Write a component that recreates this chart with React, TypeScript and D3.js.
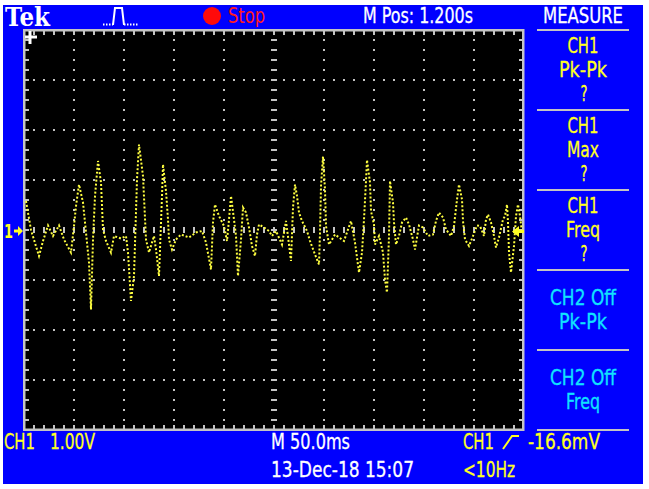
import React, { useEffect, useRef } from 'react';
import * as d3 from 'd3';

// CH1 trace: time from left edge of the graticule (ms) and level (V)
const sampleTimes = [
    2, 7, 15, 19, 24, 29, 35, 40, 47, 50, 52, 55, 59, 62, 65, 67, 69, 71, 74, 77,
    79, 82, 87, 90, 97, 102, 104, 107, 110, 113, 115, 119, 122, 125,
    130, 132, 135, 138, 139, 142, 144, 145, 148, 152, 157, 165, 172, 178, 182, 187,
    189, 191, 195, 200, 203, 205, 207, 210, 212, 214, 217, 219, 222, 225, 228, 231,
    233, 235, 240, 245, 248, 252,
    258, 262, 265, 267, 269, 271, 273, 275, 278, 283, 286, 291, 295, 296, 297, 299,
    301, 302, 305, 311, 320, 327, 331, 335, 338, 340, 342, 343, 346, 347, 350, 351,
    355, 359, 361, 363, 365, 366, 369, 370, 372, 375, 378, 382,
    385, 389, 391, 395, 399, 404, 409, 412, 415, 419, 422, 427, 430, 433, 435, 438,
    439, 441, 445, 449, 453, 456, 460, 462, 464, 467, 470, 472, 475, 479, 481, 483,
    484, 485, 487, 490, 492, 494, 496, 498, 499
];
const sampleVolts = [
    0.58, 0, -0.52, -0.22, 0.09, -0.12, 0.09, -0.19, -0.45, 0.08, 0.48, 0.91, 0.55, -0.05, -0.65, -1.59, -0.19, 0.68, 1.38, 0.95,
    0.01, -0.22, -0.45, -0.12, -0.17, -0.12, -0.45, -1.42, -0.92, 1.01, 1.71, 1.08, -0.19, -0.45,
    -0.12, -0.39, -0.92, 0.68, 1.31, 0.78, 0.21, -0.19, -0.39, -0.19, -0.09, -0.15, -0.05, -0.02, -0.25, -0.79,
    0.15, 0.51, 0.28, 0.08, -0.22, 0.21, 0.68, 0.21, -0.12, -0.92, -0.19, 0.45, 0.35, 0.05, -0.32, -0.52,
    -0.09, 0.11, 0.05, -0.02, -0.12, -0.02,
    -0.29, 0.18, -0.29, -0.62, 0.45, 0.91, 0.68, 0.35, 0.18, -0.02, -0.22, -0.49, -0.69, -0.05, 0.88, 1.47,
    0.81, 0.08, -0.29, -0.09, -0.22, 0.18, -0.25, -0.85, -0.45, 0.21, 0.98, 1.4, 0.95, 0.38, 0.11, -0.29,
    -0.12, -0.45, -0.99, -1.25, -0.12, 0.98, 0.55, 0.15, -0.29, -0.12, 0.15, 0.25,
    0.11, -0.19, -0.39, 0.09, 0.05, -0.12, -0.09, 0.18, 0.35, 0.25, 0.01, -0.12, 0.08, 0.61, 0.91, 0.61,
    0.18, -0.19, -0.32, -0.12, 0.09, 0.08, -0.12, 0.21, 0.31, 0.15, -0.12, -0.35, -0.15, 0.21, 0.28, 0.51,
    0.15, -0.45, -0.85, -0.32, 0.28, 0.51, 0.28, -0.05, 0.01
];

// MEASURE side menu
const measureSources = ['CH1', 'CH1', 'CH1', 'CH2 Off', 'CH2 Off'];
const measureTypes = ['Pk-Pk', 'Max', 'Freq', 'Pk-Pk', 'Freq'];
const measureValues = ['?', '?', '?', '', ''];

// status readouts
const headerTexts = ['M Pos: 1.200s', 'MEASURE'];
const footerTexts = ['CH1', '1.00V', 'M 50.0ms', '13-Dec-18 15:07', 'CH1', '-16.6mV', '<10Hz'];

const BLUE = '#0000fe';
const YELLOW = '#ffff22';
const CYAN = '#10e4ff';
const GREY = '#c4c4c4';
const FONT = "'DejaVu Sans', 'Liberation Sans', sans-serif";

// pixel widths of the scope's bitmap font, used as textLength
const textWidths: Record<string, number> = {
    'CH1': 31, 'Pk-Pk': 48, 'Max': 32, 'Freq': 34, '?': 7, 'CH2 Off': 66,
    'M Pos: 1.200s': 110, 'MEASURE': 80, '1.00V': 45, 'M 50.0ms': 79,
    '13-Dec-18 15:07': 143, '-16.6mV': 72, '<10Hz': 52
};

const ScopeScreen: React.FC = () => {
    const svgRef = useRef<SVGSVGElement>(null);

    useEffect(() => {
        const svg = d3.select(svgRef.current);
        svg.selectAll('*').remove();

        const addText = (txt: string, x: number, y: number, color: string, anchor = 'start', size = 21) =>
            svg.append('text')
                .attr('x', x)
                .attr('y', y)
                .attr('fill', color)
                .attr('stroke', color)
                .attr('stroke-width', 0.3)
                .attr('font-family', FONT)
                .attr('font-size', size)
                .attr('text-anchor', anchor)
                .attr('textLength', textWidths[txt] ?? null)
                .attr('lengthAdjust', 'spacingAndGlyphs')
                .text(txt);

        // blue bezel
        svg.append('rect')
            .attr('x', 3).attr('y', 5)
            .attr('width', 640).attr('height', 479)
            .attr('fill', BLUE);

        // graticule scales: 10 div x 50 ms, 8 div x 1 V
        const x = d3.scaleLinear().domain([0, 500]).range([24, 524]);
        const y = d3.scaleLinear().domain([-4, 4]).range([430, 30]);

        svg.append('rect')
            .attr('x', 24).attr('y', 30)
            .attr('width', 500).attr('height', 400)
            .attr('fill', '#000');

        const grid = svg.append('g').attr('fill', GREY);
        const minorT = d3.range(10, 500, 10);
        const minorV = d3.range(-3.8, 4, 0.2);

        // dotted division lines
        d3.range(50, 500, 50).filter(t => t !== 250).forEach(t => {
            grid.selectAll(null)
                .data(minorV)
                .enter()
                .append('rect')
                .attr('x', x(t) - 1).attr('y', d => y(d) - 1)
                .attr('width', 2).attr('height', 2);
        });
        [-3, -2, -1, 1, 2, 3].forEach(v => {
            grid.selectAll(null)
                .data(minorT)
                .enter()
                .append('rect')
                .attr('x', d => x(d) - 1).attr('y', y(v) - 1)
                .attr('width', 2).attr('height', 2);
        });

        // centre cross ticks
        grid.selectAll(null)
            .data(minorT)
            .enter()
            .append('rect')
            .attr('x', d => x(d) - 1).attr('y', y(0) - 3)
            .attr('width', 2).attr('height', 6);
        grid.selectAll(null)
            .data(minorV)
            .enter()
            .append('rect')
            .attr('x', x(250) - 3).attr('y', d => y(d) - 1)
            .attr('width', 6).attr('height', 2);

        // border ticks
        minorT.forEach(t => {
            grid.append('rect').attr('x', x(t) - 1).attr('y', 30).attr('width', 2).attr('height', 5);
            grid.append('rect').attr('x', x(t) - 1).attr('y', 425).attr('width', 2).attr('height', 5);
        });
        minorV.forEach(v => {
            grid.append('rect').attr('x', 24).attr('y', y(v) - 1).attr('width', 5).attr('height', 2);
            grid.append('rect').attr('x', 519).attr('y', y(v) - 1).attr('width', 5).attr('height', 2);
        });

        svg.append('rect')
            .attr('x', 24.25).attr('y', 30.25)
            .attr('width', 499).attr('height', 399.5)
            .attr('fill', 'none')
            .attr('stroke', GREY)
            .attr('stroke-width', 2.5);

        // CH1 trace in dot mode
        const line = d3.line<number>()
            .x((d, i) => x(sampleTimes[i]))
            .y(d => y(d));

        svg.append('path')
            .datum(sampleVolts)
            .attr('d', line)
            .attr('fill', 'none')
            .attr('stroke', '#ffff40')
            .attr('stroke-width', 2)
            .attr('stroke-dasharray', '2 2');

        // trigger position marker
        svg.append('path')
            .attr('d', 'M25,35.5 H37 V38.5 H25 Z M28.5,31 H31.5 V44 H28.5 Z')
            .attr('fill', '#fff');

        // channel 1 ground marker
        svg.append('text')
            .attr('x', 4).attr('y', 238)
            .attr('fill', YELLOW)
            .attr('font-family', FONT)
            .attr('font-weight', 'bold')
            .attr('font-size', 19)
            .attr('textLength', 9)
            .attr('lengthAdjust', 'spacingAndGlyphs')
            .text('1');
        svg.append('path')
            .attr('d', 'M14,229.5 H18 V226 L23,231 L18,236 V232.5 H14 Z')
            .attr('fill', YELLOW);

        // trigger level marker
        svg.append('path')
            .attr('d', 'M524,230 H519 V226 L512,231.5 L519,237 V233 H524 Z')
            .attr('fill', YELLOW);

        // header
        svg.append('text')
            .attr('x', 5).attr('y', 26)
            .attr('fill', '#fff')
            .attr('font-family', "'DejaVu Serif', 'Liberation Serif', serif")
            .attr('font-weight', 'bold')
            .attr('font-size', 26)
            .attr('textLength', 45)
            .attr('lengthAdjust', 'spacingAndGlyphs')
            .text('Tek');

        // acquisition icon
        svg.append('path')
            .attr('d', 'M113,25 L115,8 H122 L124,25')
            .attr('fill', 'none')
            .attr('stroke', '#fff')
            .attr('stroke-width', 2);
        svg.append('path')
            .attr('d', 'M103,24.5 H113 M124,24.5 H138')
            .attr('fill', 'none')
            .attr('stroke', '#fff')
            .attr('stroke-width', 2)
            .attr('stroke-dasharray', '1.5 1.5');

        svg.append('circle')
            .attr('cx', 212).attr('cy', 16).attr('r', 9)
            .attr('fill', '#ff0a0a');
        svg.append('text')
            .attr('x', 228).attr('y', 23)
            .attr('fill', '#ff1c1c')
            .attr('font-family', FONT)
            .attr('font-size', 21)
            .attr('textLength', 37)
            .attr('lengthAdjust', 'spacingAndGlyphs')
            .text('Stop');

        addText(headerTexts[0], 363, 23, '#fff');
        addText(headerTexts[1], 543, 23, '#fff');

        // measure menu
        d3.range(6).forEach(i => {
            svg.append('rect')
                .attr('x', 537).attr('y', 29 + i * 80)
                .attr('width', 92).attr('height', 2)
                .attr('fill', GREY);
        });
        measureSources.forEach((src, i) => {
            const top = 30 + i * 80;
            const hasValue = measureValues[i] !== '';
            const color = src === 'CH1' ? YELLOW : CYAN;
            const first = hasValue ? top + 23 : top + 35;
            addText(src, 583, first, color, 'middle');
            addText(measureTypes[i], 583, first + 24, color, 'middle');
            if (hasValue) addText(measureValues[i], 584, first + 48, color, 'middle');
        });

        // footer readouts
        addText(footerTexts[0], 4, 449, YELLOW);
        addText(footerTexts[1], 50, 449, YELLOW);
        addText(footerTexts[2], 271, 449, '#fff');
        addText(footerTexts[3], 271, 477, '#fff');
        addText(footerTexts[4], 463, 449, YELLOW);
        svg.append('path')
            .attr('d', 'M503,449 L512,436 H519')
            .attr('fill', 'none')
            .attr('stroke', YELLOW)
            .attr('stroke-width', 2);
        addText(footerTexts[5], 528, 449, YELLOW);
        addText(footerTexts[6], 463, 477, YELLOW);
    }, []);

    return <svg ref={svgRef} width={649} height={489} style={{ display: 'block' }} />;
};

export default function App() {
    return (
        <div style={{ position: 'absolute', left: 0, top: 0, background: '#fff' }}>
            <ScopeScreen />
        </div>
    );
}
